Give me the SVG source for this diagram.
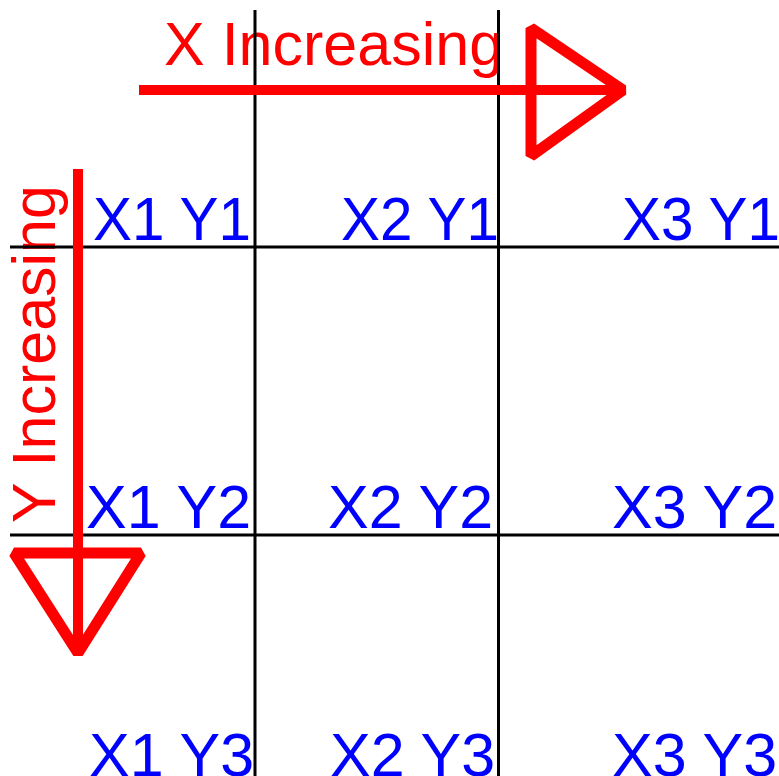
<svg xmlns="http://www.w3.org/2000/svg" width="779" height="776" viewBox="0 0 779 776">
<style>
.grid{stroke:#000;stroke-width:3;fill:none}
.red{stroke:#f00;stroke-width:10;fill:none;stroke-linejoin:bevel}
.tri{stroke:#f00;stroke-width:11;fill:none;stroke-linejoin:bevel}
.rt{fill:#f00;font-family:"Liberation Sans",Arial,sans-serif;font-size:61px}
.bt{fill:#00f;font-family:"Liberation Sans",Arial,sans-serif;font-size:61px}
</style>
<rect width="779" height="776" fill="#fff"/>
<g id="axis-labels">
<text class="rt" x="164" y="65">X Increasing</text>
<text class="rt" transform="translate(55,523) rotate(-90)">Y Increasing</text>
</g>
<g id="grid">
<line class="grid" x1="10" y1="247" x2="779" y2="247"/>
<line class="grid" x1="10" y1="535" x2="779" y2="535"/>
<line class="grid" x1="255" y1="10" x2="255" y2="776"/>
<line class="grid" x1="498.5" y1="10" x2="498.5" y2="776"/>
</g>
<g id="connectors">
<g id="x-arrow">
<line class="red" x1="139" y1="90" x2="620" y2="90"/>
<polygon class="tri" points="531,28 623,90 531,156"/>
</g>
<g id="y-arrow">
<line class="red" x1="78" y1="169" x2="78" y2="650"/>
<polygon class="tri" points="14,553 141,553 78,653"/>
</g>
</g>
<g id="cell-x1y1"><text class="bt" x="93" y="240" textLength="158" lengthAdjust="spacingAndGlyphs">X1 Y1</text></g>
<g id="cell-x2y1"><text class="bt" x="341" y="240" textLength="158" lengthAdjust="spacingAndGlyphs">X2 Y1</text></g>
<g id="cell-x3y1"><text class="bt" x="622" y="240" textLength="158" lengthAdjust="spacingAndGlyphs">X3 Y1</text></g>
<g id="cell-x1y2"><text class="bt" x="86" y="528">X1 Y2</text></g>
<g id="cell-x2y2"><text class="bt" x="328" y="528">X2 Y2</text></g>
<g id="cell-x3y2"><text class="bt" x="612" y="528">X3 Y2</text></g>
<g id="cell-x1y3"><text class="bt" x="89" y="776">X1 Y3</text></g>
<g id="cell-x2y3"><text class="bt" x="330" y="776">X2 Y3</text></g>
<g id="cell-x3y3"><text class="bt" x="612" y="776">X3 Y3</text></g>
</svg>
